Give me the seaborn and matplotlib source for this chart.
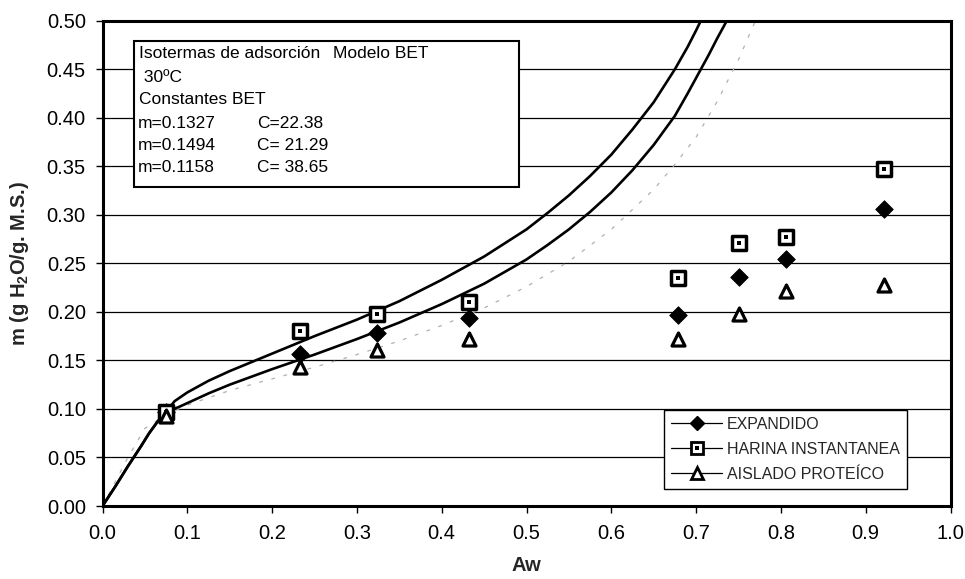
import numpy as np
import pandas as pd
import matplotlib
matplotlib.use("Agg")
import matplotlib.pyplot as plt
import seaborn as sns
from matplotlib.lines import Line2D
from matplotlib.patches import Rectangle
from matplotlib.legend_handler import HandlerTuple
from matplotlib.ticker import FixedLocator, FormatStrFormatter

# ---------------- data ----------------
aw = [0.075, 0.233, 0.324, 0.432, 0.679, 0.751, 0.806, 0.922]
expandido = [0.097, 0.157, 0.178, 0.194, 0.197, 0.236, 0.254, 0.306]
harina = [0.097, 0.180, 0.198, 0.210, 0.235, 0.271, 0.277, 0.347]
aislado = [0.093, 0.143, 0.161, 0.172, 0.172, 0.198, 0.222, 0.228]

upper_x = [0, 0.015, 0.03, 0.045, 0.055, 0.065, 0.075, 0.085, 0.1, 0.125, 0.15, 0.2, 0.25,
           0.3, 0.35, 0.4, 0.45, 0.5, 0.525, 0.55, 0.575, 0.6, 0.625, 0.65, 0.675,
           0.69, 0.7, 0.71]
upper_y = [0, 0.02, 0.041, 0.061, 0.075, 0.087, 0.097, 0.108, 0.117, 0.129, 0.139, 0.157, 0.175,
           0.192, 0.211, 0.233, 0.257, 0.285, 0.302, 0.32, 0.34, 0.362, 0.388, 0.416, 0.45,
           0.473, 0.49, 0.508]

lower_x = [0, 0.015, 0.03, 0.045, 0.055, 0.065, 0.075, 0.09, 0.1, 0.125, 0.15, 0.2, 0.25,
           0.3, 0.35, 0.4, 0.45, 0.5, 0.525, 0.55, 0.575, 0.6, 0.625, 0.65, 0.675,
           0.69, 0.7, 0.715, 0.725, 0.735, 0.745]
lower_y = [0, 0.02, 0.041, 0.061, 0.075, 0.087, 0.097, 0.102, 0.106, 0.116, 0.125, 0.141, 0.156,
           0.172, 0.189, 0.208, 0.229, 0.254, 0.269, 0.285, 0.303, 0.323, 0.346, 0.372, 0.402,
           0.425, 0.441, 0.465, 0.482, 0.498, 0.515]

dotted_x = [0, 0.03, 0.05, 0.075, 0.1, 0.15, 0.2, 0.25, 0.3, 0.35, 0.4, 0.45, 0.5,
            0.55, 0.6, 0.65, 0.675, 0.7, 0.725, 0.75, 0.76, 0.775]
dotted_y = [0, 0.05, 0.08, 0.094, 0.104, 0.119, 0.131, 0.143, 0.156, 0.17, 0.186, 0.204,
            0.226, 0.252, 0.285, 0.326, 0.352, 0.38, 0.417, 0.46, 0.48, 0.51]

x_ticks = [0.0, 0.1, 0.2, 0.3, 0.4, 0.5, 0.6, 0.7, 0.8, 0.9, 1.0]
y_ticks = [0.00, 0.05, 0.10, 0.15, 0.20, 0.25, 0.30, 0.35, 0.40, 0.45, 0.50]

series_names = ["EXPANDIDO", "HARINA INSTANTANEA", "AISLADO PROTEÍCO"]
box_lines = ["Isotermas de adsorción", "Modelo BET", " 30ºC", "Constantes BET"]
m_values = ["m=0.1327", "m=0.1494", "m=0.1158"]
c_values = ["C=22.38", "C= 21.29", "C= 38.65"]

# ---------------- style ----------------
sns.set_style("white")
plt.rcParams["font.family"] = ["Liberation Sans", "DejaVu Sans"]
plt.rcParams["mathtext.default"] = "regular"

W, H = 965, 579
fig = plt.figure(figsize=(W / 100, H / 100), dpi=100)
def fx(x):
    return x / W
def fy(y):
    return 1 - y / H

ax = fig.add_axes([fx(102.5), fy(506), fx(950.5) - fx(102.5), fy(20.7) - fy(506)])

# curves
sns.lineplot(x=upper_x, y=upper_y, ax=ax, color="black", lw=1.9, zorder=2,
             estimator=None, sort=False)
sns.lineplot(x=lower_x, y=lower_y, ax=ax, color="black", lw=1.9, zorder=2,
             estimator=None, sort=False)
sns.lineplot(x=dotted_x, y=dotted_y, ax=ax, color="#b0b0b0", lw=0.9, zorder=1.8,
             estimator=None, sort=False, dashes=False, linestyle=(0, (3, 7)))

# points
sns.scatterplot(x=aw, y=expandido, ax=ax, marker="D", s=80, color="black",
                edgecolor="black", linewidth=0.6, zorder=3)
sns.scatterplot(x=aw, y=harina, ax=ax, marker="s", s=98, facecolor="white",
                edgecolor="black", linewidth=2.5, zorder=4)
sns.scatterplot(x=aw, y=harina, ax=ax, marker="s", s=12, color="black",
                linewidth=0, zorder=4.1)
sns.scatterplot(x=aw, y=aislado, ax=ax, marker="^", s=88, facecolor="white",
                edgecolor="black", linewidth=2.3, zorder=4.2)

# axes
ax.set_xlim(0, 1.0)
ax.set_ylim(0, 0.5)
ax.xaxis.set_major_locator(FixedLocator(x_ticks))
ax.yaxis.set_major_locator(FixedLocator(y_ticks))
ax.xaxis.set_major_formatter(FormatStrFormatter("%.1f"))
ax.yaxis.set_major_formatter(FormatStrFormatter("%.2f"))
ax.tick_params(axis="both", which="major", direction="out", length=5, width=1,
               color="black", labelsize=14.5, labelcolor="black")
ax.tick_params(axis="x", pad=8, bottom=True)
ax.tick_params(axis="y", pad=7, left=True)
ax.yaxis.grid(True, color="black", lw=0.9)
ax.xaxis.grid(False)
ax.set_axisbelow(True)
for sp in ax.spines.values():
    sp.set_visible(True)
    sp.set_color("black")
    sp.set_linewidth(2.2)

ax.set_xlabel("Aw", fontsize=14.5, fontweight="bold", labelpad=9)
ax.set_ylabel("m (g H$_2$O/g. M.S.)", fontsize=14.5, fontweight="bold", labelpad=11)

# text box
rect = Rectangle((fx(134), fy(187)), fx(519) - fx(134), fy(41) - fy(187),
                 transform=fig.transFigure, facecolor="white", edgecolor="black",
                 lw=1.5, zorder=5, clip_on=False)
ax.add_patch(rect)
tkw = dict(transform=fig.transFigure, fontsize=12.5, va="center", ha="left",
           zorder=6, color="black")
ax.text(fx(139), fy(53), box_lines[0], **tkw)
ax.text(fx(333), fy(53), box_lines[1], **tkw)
ax.text(fx(139), fy(77), box_lines[2], **tkw)
ax.text(fx(139), fy(100), box_lines[3], **tkw)
for i, (mv, cv) in enumerate(zip(m_values, c_values)):
    yy = 123 + i * 22.5
    ax.text(fx(138), fy(yy), mv, **tkw)
    ax.text(fx(257), fy(yy), cv, **tkw)

# legend
h1 = Line2D([], [], color="black", lw=0.9, marker="D", markersize=7.5,
            markerfacecolor="black", markeredgecolor="black")
h2a = Line2D([], [], color="black", lw=0.9, marker="s", markersize=8,
             markerfacecolor="white", markeredgecolor="black", markeredgewidth=2.0)
h2b = Line2D([], [], color="black", lw=0, marker="s", markersize=2.5,
             markerfacecolor="black", markeredgewidth=0, linestyle="none")
h3 = Line2D([], [], color="black", lw=0.9, marker="^", markersize=8.5,
            markerfacecolor="white", markeredgecolor="black", markeredgewidth=2.0)
leg = ax.legend([h1, (h2a, h2b), h3], series_names,
                handler_map={tuple: HandlerTuple(ndivide=1)},
                loc="lower left", bbox_to_anchor=(fx(664), fy(489)),
                bbox_transform=fig.transFigure, borderaxespad=0,
                fontsize=11.5, handlelength=3.2, handletextpad=0.3,
                labelspacing=0.62, borderpad=0.45, fancybox=False,
                framealpha=1, edgecolor="black")
leg.get_frame().set_linewidth(1.0)
leg.set_zorder(6)

fig.savefig("out.png", dpi=100)
